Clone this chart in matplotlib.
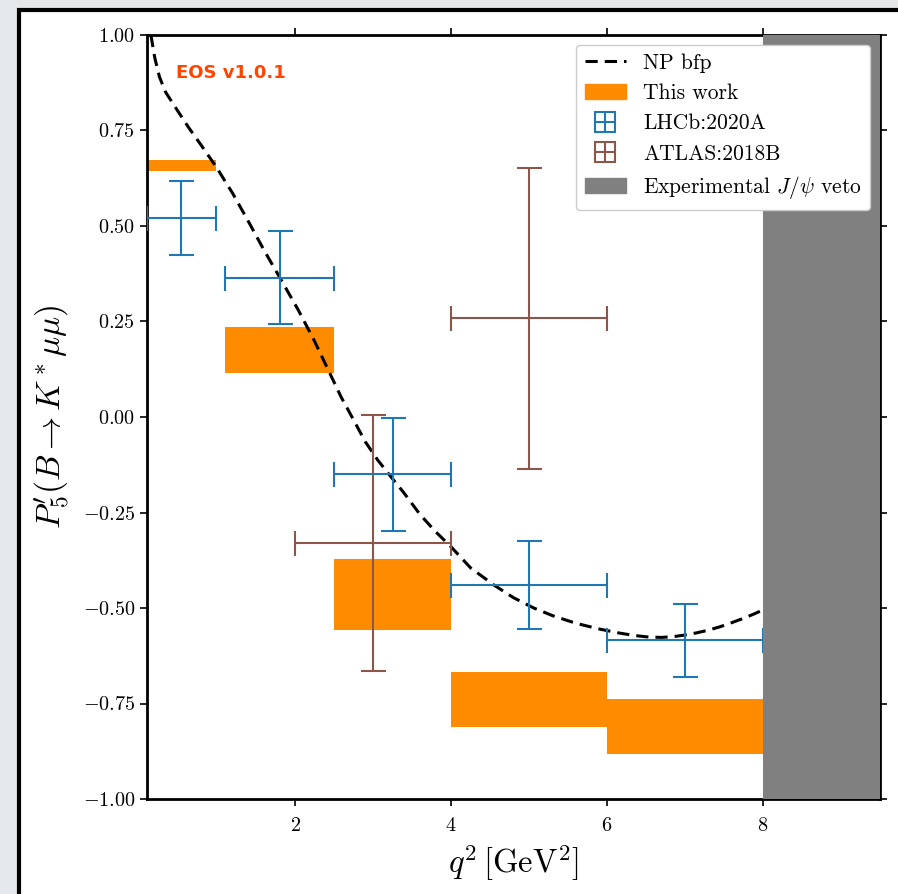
import numpy as np
import matplotlib
matplotlib.use("Agg")
import matplotlib.pyplot as plt
from matplotlib.patches import Patch, Rectangle
from matplotlib.lines import Line2D
from matplotlib.legend_handler import HandlerTuple

plt.rcParams['font.family'] = 'serif'
plt.rcParams['font.serif'] = ['cmr10']
plt.rcParams['mathtext.fontset'] = 'cm'
plt.rcParams['axes.formatter.use_mathtext'] = True

# NP best-fit point curve
np_q2 = [0.15, 0.2, 0.26, 0.34, 0.45, 0.63, 0.8, 0.99, 1.2, 1.4, 1.6, 1.82, 2.04,
         2.24, 2.42, 2.59, 2.75, 2.9, 3.06, 3.23, 3.4, 3.6, 3.8, 4.0, 4.25,
         4.55, 4.8, 5.06, 5.3, 5.6, 5.9, 6.14, 6.35, 6.53, 6.7, 6.85, 6.99,
         7.15, 7.3, 7.45, 7.59, 7.75, 7.88, 8.0]
np_p5 = [1.0, 0.94, 0.89, 0.85, 0.815, 0.759, 0.71, 0.654, 0.585, 0.512, 0.437,
         0.359, 0.28, 0.202, 0.125, 0.052, -0.008, -0.065, -0.113, -0.157,
         -0.2, -0.255, -0.3, -0.34, -0.395, -0.44, -0.473, -0.50, -0.52, -0.54,
         -0.555, -0.565, -0.572, -0.576, -0.577, -0.575, -0.571, -0.565,
         -0.558, -0.549, -0.539, -0.527, -0.516, -0.505]

# "This work" bins
work_lo = [0.1, 1.1, 2.5, 4.0, 6.0]
work_hi = [0.98, 2.5, 4.0, 6.0, 8.0]
work_min = [0.644, 0.115, -0.558, -0.812, -0.882]
work_max = [0.673, 0.236, -0.372, -0.668, -0.738]

# LHCb:2020A
lhcb_lo = [0.1, 1.1, 2.5, 4.0, 6.0]
lhcb_hi = [0.98, 2.5, 4.0, 6.0, 8.0]
lhcb_val = [0.521, 0.365, -0.150, -0.440, -0.585]
lhcb_err = [0.097, 0.122, 0.148, 0.115, 0.095]

# ATLAS:2018B
atlas_lo = [2.0, 4.0]
atlas_hi = [4.0, 6.0]
atlas_val = [-0.330, 0.258]
atlas_err = [0.335, 0.395]

veto = (8.0, 9.5)

fig = plt.figure(figsize=(8.98, 8.94), dpi=100, facecolor='#e4e8eb')
fig.patches.append(Rectangle((18.5 / 898, -0.1), 2.0, (894 - 9.5) / 894 + 0.1,
                             transform=fig.transFigure, facecolor='white',
                             edgecolor='black', lw=3, zorder=-1))
ax = fig.add_axes([147 / 898, 95 / 894, 733 / 898, 764 / 894])

line_np, = ax.plot(np_q2, np_p5, color='black', ls='--', lw=2.2, dashes=(4, 2.3))

for lo, hi, ymin, ymax in zip(work_lo, work_hi, work_min, work_max):
    ax.fill_between([lo, hi], [ymin, ymin], [ymax, ymax], color='darkorange',
                    lw=0, zorder=1)

lhcb_x = [(a + b) / 2 for a, b in zip(lhcb_lo, lhcb_hi)]
lhcb_xerr = [[x - a for x, a in zip(lhcb_x, lhcb_lo)],
             [b - x for x, b in zip(lhcb_x, lhcb_hi)]]
ax.errorbar(lhcb_x, lhcb_val, xerr=lhcb_xerr, yerr=lhcb_err, fmt='none',
            ecolor='tab:blue', elinewidth=1.5, capsize=9, capthick=1.5, zorder=3)

atlas_x = [(a + b) / 2 for a, b in zip(atlas_lo, atlas_hi)]
atlas_xerr = [[x - a for x, a in zip(atlas_x, atlas_lo)],
              [b - x for x, b in zip(atlas_x, atlas_hi)]]
ax.errorbar(atlas_x, atlas_val, xerr=atlas_xerr, yerr=atlas_err, fmt='none',
            ecolor='tab:brown', elinewidth=1.5, capsize=9, capthick=1.5, zorder=2)

ax.axvspan(veto[0], veto[1], color='gray', lw=0, zorder=4)

ax.set_xlim(0.1, 9.5)
ax.set_ylim(-1.0, 1.0)
ax.set_xticks([2, 4, 6, 8])
ax.set_yticks(np.linspace(-1, 1, 9))
ax.yaxis.set_major_formatter(matplotlib.ticker.FormatStrFormatter('$%.2f$'))
ax.tick_params(direction='out', length=5, width=1.2, labelsize=14.5,
               top=True, right=True)
ax.tick_params(axis='x', pad=8)
for s in ax.spines.values():
    s.set_linewidth(2)

ax.set_xlabel(r'$q^2\,[\mathrm{GeV}^2]$', fontsize=23.5, labelpad=6)
ax.set_ylabel(r"$P_5'(B \to K^* \mu\mu)$", fontsize=24, labelpad=8)

ax.text(0.04, 0.95, 'EOS v1.0.1', transform=ax.transAxes, color='orangered',
        fontsize=13, fontweight='bold', family='DejaVu Sans', va='center')

h_lhcb = (Line2D([], [], ls='none', marker='s', ms=14, mfc='none', mec='tab:blue', mew=1.5),
          Line2D([], [], ls='none', marker='+', ms=14, mec='tab:blue', mew=1.5))
h_atlas = (Line2D([], [], ls='none', marker='s', ms=14, mfc='none', mec='tab:brown', mew=1.5),
           Line2D([], [], ls='none', marker='+', ms=14, mec='tab:brown', mew=1.5))
handles = [line_np, Patch(color='darkorange'), h_lhcb, h_atlas, Patch(color='gray')]
labels = ['NP bfp', 'This work', 'LHCb:2020A', 'ATLAS:2018B',
          r'Experimental $J/\psi$ veto']
leg = ax.legend(handles, labels, loc='upper right', fontsize=15.5,
                handler_map={tuple: HandlerTuple(ndivide=1)}, framealpha=1,
                borderaxespad=0.45, handlelength=1.9)
leg.set_zorder(10)

fig.savefig('out.png', dpi=100, facecolor=fig.get_facecolor())
